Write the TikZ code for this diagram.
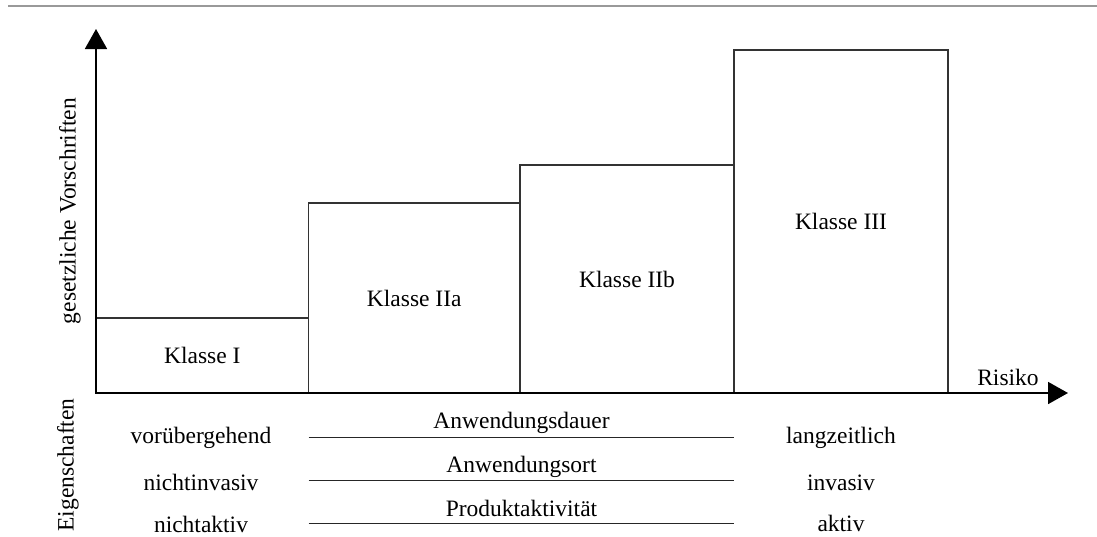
\documentclass[tikz,border=0pt]{standalone}
\usepackage{fontspec}
\setmainfont{Liberation Serif}
\usetikzlibrary{arrows.meta}
\begin{document}
\begin{tikzpicture}[x=1pt,y=-1pt,
  font=\fontsize{23.5}{28}\selectfont,
  klasse/.style={draw=black!80, line width=1.3pt, inner sep=0pt, align=center},
  axis/.style={line width=1.8pt, line cap=rect, -{Triangle[length=20pt,width=22pt]}},
  propline/.style={draw=black!85, line width=1.2pt},
  lbl/.style={inner sep=0pt}]
\useasboundingbox (0,0) rectangle (1097,536);

% rule at the top
\coordinate (r1) at (8,6);
\coordinate (r2) at (1097,6);
\draw[black!40, line width=1.5pt] (r1) -- (r2);

% classes
\node[klasse, minimum width=212.5pt, minimum height=75pt]  (k1) at (202.25,355.5) {Klasse I};
\node[klasse, minimum width=211.5pt, minimum height=190pt] (k2) at (414.25,298)   {Klasse IIa};
\node[klasse, minimum width=214pt,   minimum height=228pt] (k3) at (627,279)      {Klasse IIb};
\node[klasse, minimum width=214pt,   minimum height=343pt] (k4) at (841,221.5)    {Klasse III};

% axes
\coordinate (o) at (96,393);
\coordinate (ytip) at (96,29);
\coordinate (xtip) at (1068,393);
\draw[axis] (o) -- (ytip);
\draw[axis] (o) -- (xtip);

\node[lbl] (risk) at (1008,377) {Risiko};
\node[lbl, rotate=90] (gv) at (70,211) {gesetzliche Vorschriften};
\node[lbl, rotate=90] (eig) at (68,465) {Eigenschaften};

% properties
\node[lbl] (p1l) at (201,438) {vorübergehend};
\node[lbl] (p2l) at (201,482) {nichtinvasiv};
\node[lbl] (p3l) at (201,524) {nichtaktiv};
\node[lbl] (p1r) at (841,438) {langzeitlich};
\node[lbl] (p2r) at (841,483) {invasiv};
\node[lbl] (p3r) at (841,523) {aktiv};

\node[lbl] (p1m) at (521.5,423) {Anwendungsdauer};
\node[lbl] (p2m) at (521.5,467) {Anwendungsort};
\node[lbl] (p3m) at (521.5,508) {Produktaktivität};

\coordinate (a1) at (308.5,437.7); \coordinate (b1) at (734,437.7);
\coordinate (a2) at (308.5,480.7); \coordinate (b2) at (734,480.7);
\coordinate (a3) at (308.5,523.3); \coordinate (b3) at (734,523.3);
\draw[propline] (a1) -- (b1);
\draw[propline] (a2) -- (b2);
\draw[propline] (a3) -- (b3);
\end{tikzpicture}
\end{document}
